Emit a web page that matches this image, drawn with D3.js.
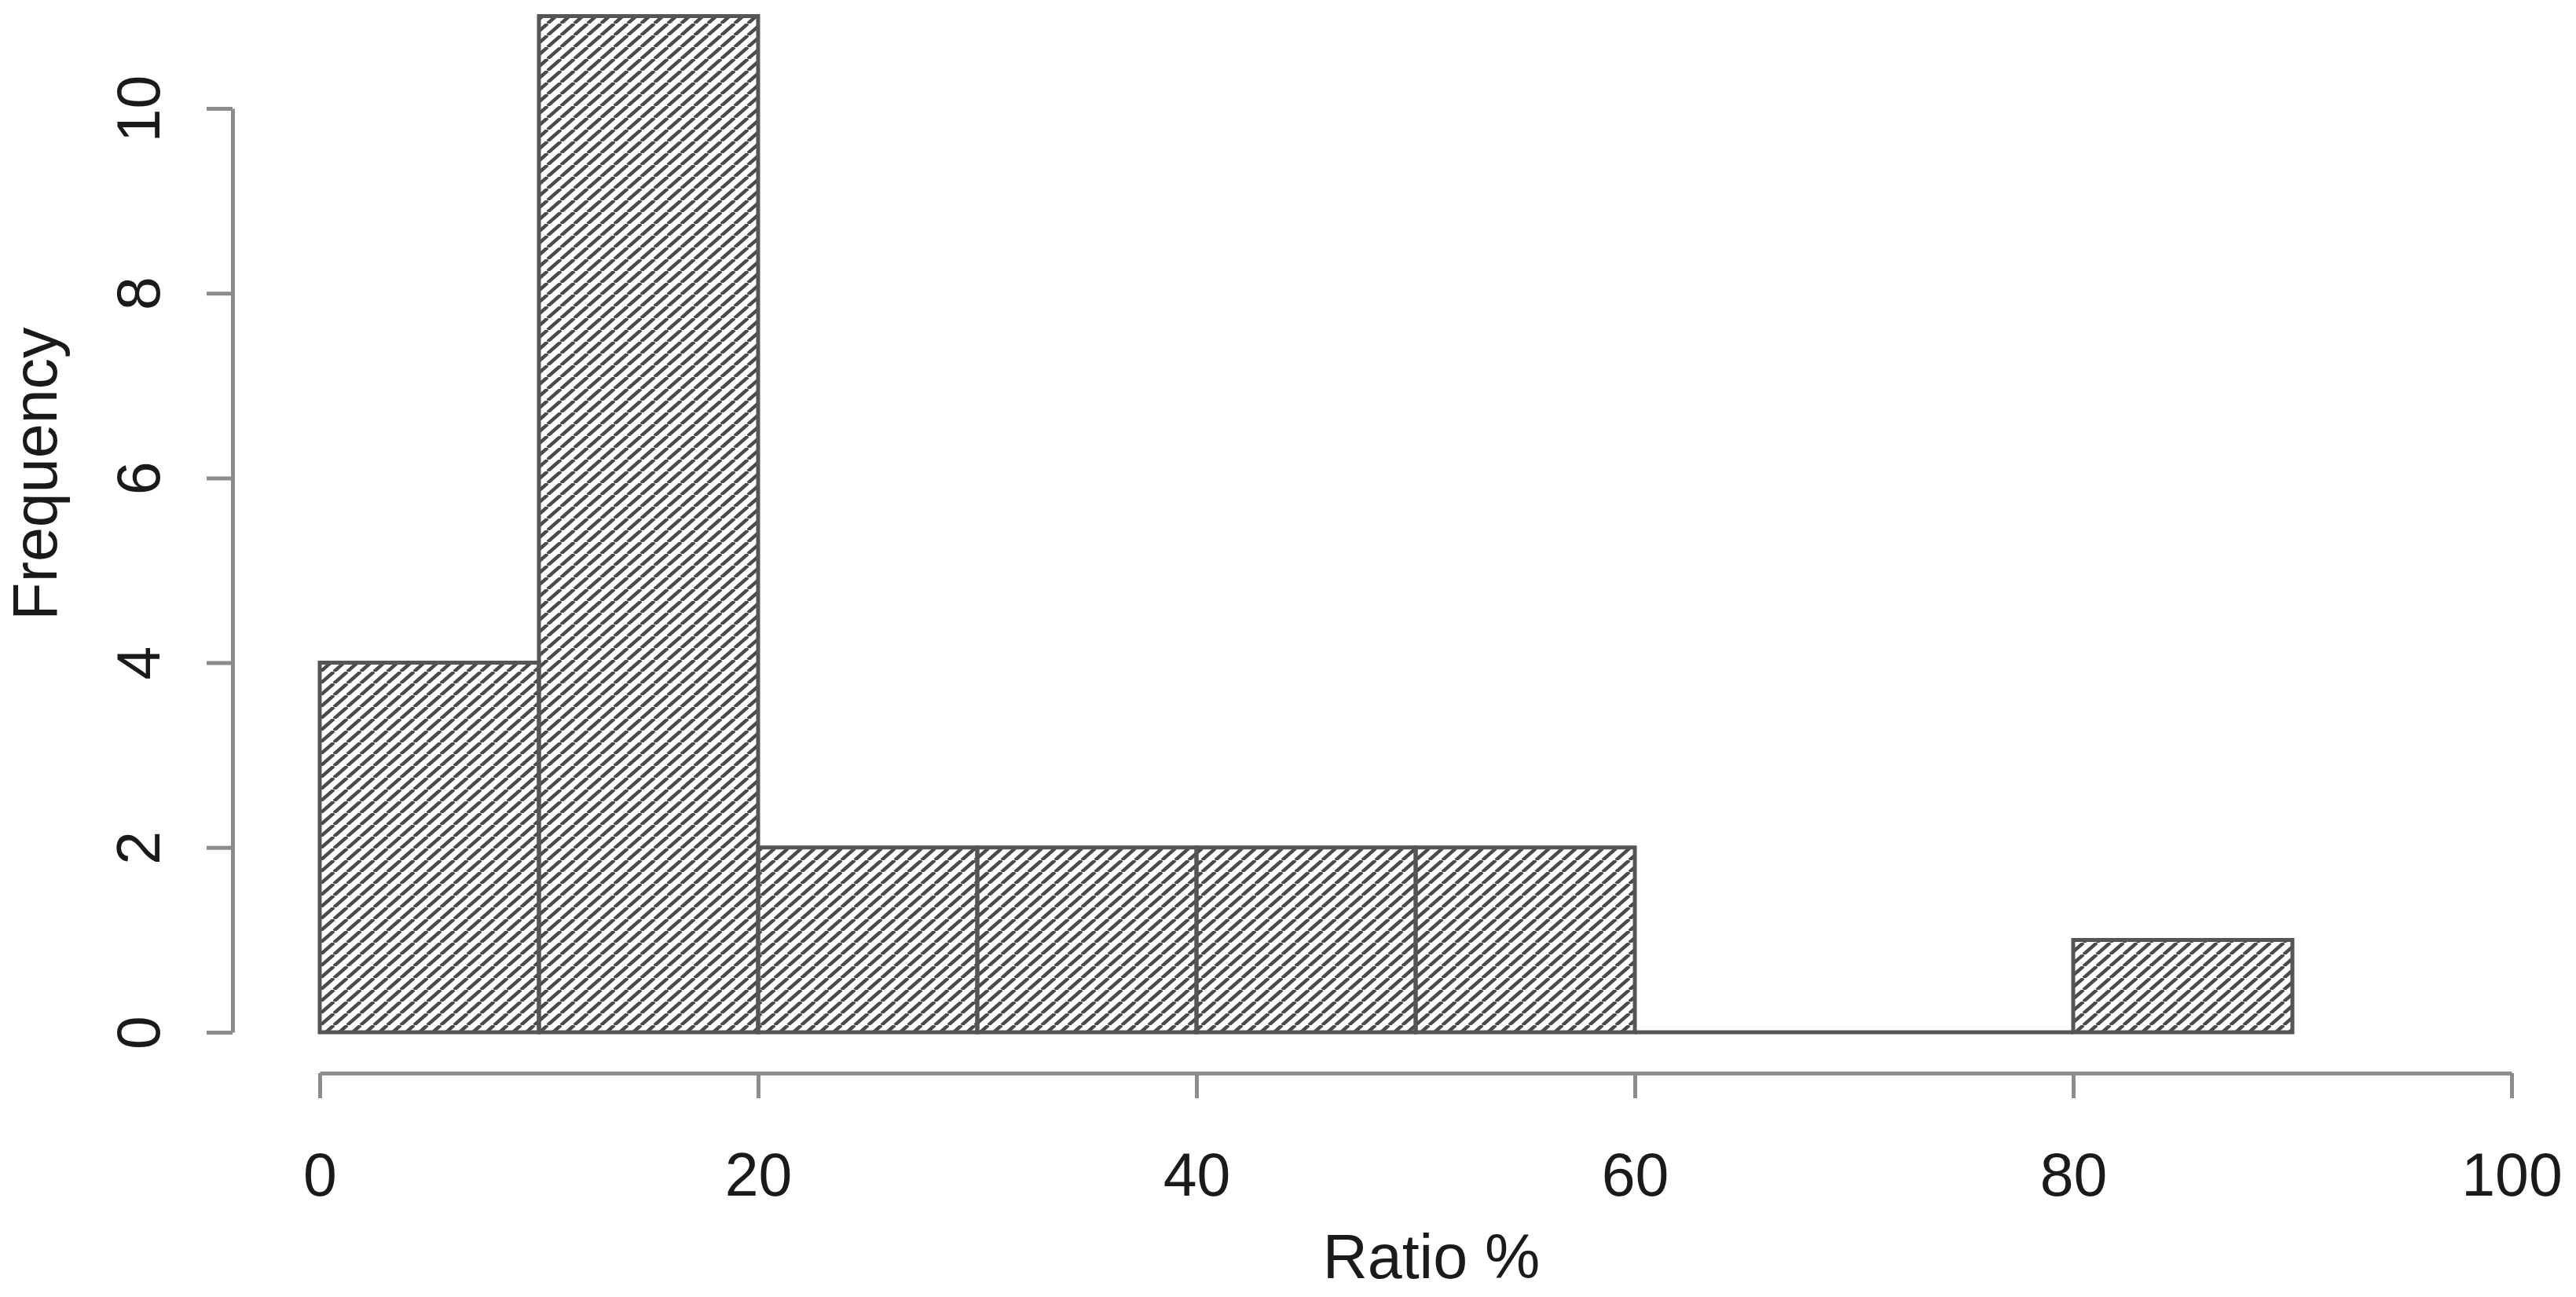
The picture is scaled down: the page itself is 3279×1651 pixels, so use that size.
<!DOCTYPE html>
<meta charset="utf-8">
<html>
<head>
<script src="https://cdn.jsdelivr.net/npm/d3@7"></script>
<style>
  body { margin: 0; background: #fff; }
  text { font-family: "Liberation Sans", Arial, sans-serif; fill: #1a1a1a; }
</style>
</head>
<body>
<div id="viz"></div>
<script>
// histogram bins (lower edge, upper edge) and counts
const binStart = [0, 10, 20, 30, 40, 50, 60, 70, 80];
const binEnd   = [10, 20, 30, 40, 50, 60, 70, 80, 90];
const counts   = [4, 11, 2, 2, 2, 2, 0, 0, 1];
const xTicks = [0, 20, 40, 60, 80, 100];
const yTicks = [0, 2, 4, 6, 8, 10];
const xLabel = "Ratio %";
const yLabel = "Frequency";

const w = 3279, h = 1651;
const axisColor = "#8c8c8c",
    barStroke = "#555555",
    hatchColor = "#4a4a4a";

const svg = d3.select("#viz").append("svg")
    .attr("width", w)
    .attr("height", h)
    .style("background-color", "#fff");

const x = d3.scaleLinear().domain([0, 100]).range([407, 3197]);
const y = d3.scaleLinear().domain([0, 10]).range([1314, 138]);

// diagonal hatching, a touch flatter than 45deg
const hw = 17, hh = 15;
const pat = svg.append("defs").append("pattern")
    .attr("id", "hatch")
    .attr("patternUnits", "userSpaceOnUse")
    .attr("width", hw)
    .attr("height", hh);
pat.append("path")
    .attr("d", `M${-hw},${hh} L0,0 M0,${hh} L${hw},0 M${hw},${hh} L${2 * hw},0`)
    .attr("stroke", hatchColor)
    .attr("stroke-width", 4.4);

const bins = counts.map((c, i) => ({x0: binStart[i], x1: binEnd[i], n: c}));

// bars as paths so zero-height bins still draw their outline
svg.append("g").selectAll("path")
    .data(bins)
    .join("path")
    .attr("d", d => `M${x(d.x0)},${y(0)}H${x(d.x1)}V${y(d.n)}H${x(d.x0)}Z`)
    .attr("fill", "url(#hatch)")
    .attr("stroke", barStroke)
    .attr("stroke-width", 5);

// x axis
const xAxis = svg.append("g")
    .attr("transform", "translate(0,1366)")
    .call(d3.axisBottom(x).tickValues(xTicks).tickSize(32).tickSizeOuter(0));
xAxis.select(".domain").attr("stroke", axisColor).attr("stroke-width", 5);
xAxis.selectAll(".tick line").attr("stroke", axisColor).attr("stroke-width", 5);
xAxis.selectAll(".tick text")
    .attr("fill", "#1a1a1a")
    .attr("font-size", 77)
    .attr("dy", 0)
    .attr("y", 156)
    .attr("font-family", "Liberation Sans, Arial, sans-serif");

// y axis
const yAxis = svg.append("g")
    .attr("transform", "translate(296,0)")
    .call(d3.axisLeft(y).tickValues(yTicks).tickSize(33).tickSizeOuter(0));
yAxis.select(".domain").attr("stroke", axisColor).attr("stroke-width", 5);
yAxis.selectAll(".tick line").attr("stroke", axisColor).attr("stroke-width", 5);
yAxis.selectAll(".tick text")
    .attr("fill", "#1a1a1a")
    .attr("font-size", 77)
    .attr("font-family", "Liberation Sans, Arial, sans-serif")
    .attr("x", null)
    .attr("dy", 0)
    .attr("text-anchor", "middle")
    .attr("transform", "translate(-93,0) rotate(-90)");

// axis titles
svg.append("text")
    .attr("x", 1822)
    .attr("y", 1627)
    .attr("text-anchor", "middle")
    .attr("font-size", 79)
    .text(xLabel);

svg.append("text")
    .attr("transform", "translate(72,603) rotate(-90)")
    .attr("text-anchor", "middle")
    .attr("font-size", 79)
    .text(yLabel);
</script>
</body>
</html>
